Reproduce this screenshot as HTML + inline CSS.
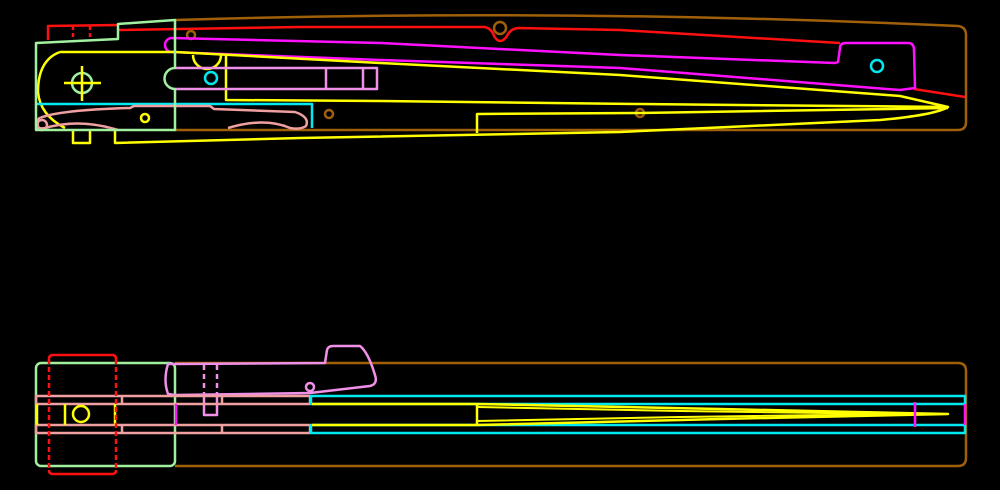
<!DOCTYPE html>
<html><head><style>
html,body{margin:0;padding:0;background:#000;width:1000px;height:490px;overflow:hidden}
svg{display:block}
</style></head><body>
<svg width="1000" height="490" viewBox="0 0 1000 490" xmlns="http://www.w3.org/2000/svg" fill="none" stroke-width="2.5" stroke-linejoin="round">
<!-- TOP VIEW -->
<path d="M175,20 Q560,8 958,26 Q966,27 966,35 L966,122 Q966,130 958,130 L175,130" stroke="#a0600a"/>
<circle cx="500" cy="28" r="6" stroke="#a0600a"/>
<circle cx="191" cy="35" r="4" stroke="#a0600a"/>
<circle cx="329" cy="114" r="4" stroke="#a0600a"/>
<circle cx="640" cy="113" r="4" stroke="#a0600a"/>
<path d="M48,40 L48,26 L118,25 M118,30 L300,27 L485,27 Q492,29 494,36 Q500,46 507,36 Q510,29 518,28 L620,30 L840,43" stroke="#ff1010"/>
<path d="M73,26 L73,38 M90,26 L90,38" stroke="#ff1010" stroke-dasharray="4,3"/>
<path d="M914,89 L965,97" stroke="#ff1010"/>
<path d="M172,38 L380,43 L620,55 L835,63 L838,62 L840,48 Q840,43 846,43 L908,43 Q914,43 914,50 L915,88 L900,90 L620,68 L380,60 L172,52 A7,7 0 0 1 172,38 Z" stroke="#ff10ff"/>
<circle cx="877" cy="66" r="6" stroke="#00e8f0"/>
<path d="M60,52 L175,52 L380,63 L620,75 L900,96 L948,107 Q935,115 880,120 L707,128 L620,132 L300,138 L115,143 L115,130 M60,52 Q38,60 38,92 Q40,115 65,128" stroke="#ffff00"/>
<path d="M226,55 L226,100 L380,101 L640,104 L948,107" stroke="#ffff00"/>
<path d="M477,133 L477,114 L640,113 L948,108" stroke="#ffff00"/>
<path d="M73,130 L73,143 L90,143 L90,130" stroke="#ffff00"/>
<path d="M193,55 A14,14 0 0 0 221,55" stroke="#ffff00"/>
<circle cx="145" cy="118" r="4" stroke="#ffff00"/>
<path d="M36,104 L312,104 L312,128" stroke="#00e8f0"/>
<circle cx="211" cy="78" r="6" stroke="#00e8f0"/>
<path d="M175,68 L377,68 L377,89 L175,89" stroke="#f090e8"/>
<path d="M326,68 L326,89 M363,68 L363,89" stroke="#f090e8"/>
<path d="M40,118 Q60,110 130,108 L134,106 L210,106 L214,109 L295,112 Q310,117 306,126 Q300,130 290,128 Q265,117 228,128 M118,130 Q80,118 45,128 Q36,130 38,122 Q38,118 40,118" stroke="#f0a0a0"/>
<circle cx="42" cy="125" r="5" stroke="#f0a0a0"/>
<path d="M36,43 L118,39 L118,24 L175,20 L175,68 A9,9 0 0 0 175,89 L175,130 L36,130 Z" stroke="#a0f0a0"/>
<circle cx="82" cy="83" r="10" stroke="#a0f0a0"/>
<path d="M64,83 L101,83 M82,66 L82,101" stroke="#ffff00"/>

<!-- BOTTOM VIEW -->
<path d="M175,363 L958,363 Q966,363 966,371 L966,458 Q966,466 958,466 L175,466" stroke="#a0600a"/>
<rect x="36" y="363" width="139" height="103" rx="5" stroke="#a0f0a0"/>
<path d="M175,364 L325,363 L327,350 Q328,346 333,346 L360,346 Q368,352 375,375 Q378,384 370,386 L310,393 L175,395 L168,394 Q163,380 168,364 Z" stroke="#f090e8"/>
<circle cx="310" cy="387" r="4" stroke="#f090e8"/>
<path d="M204,365 L204,395 M217,365 L217,395" stroke="#f090e8" stroke-dasharray="5,4"/>
<path d="M204,397 L204,415 L217,415 L217,397" stroke="#f090e8"/>
<rect x="36" y="396" width="274" height="8" stroke="#f0a0a0"/>
<rect x="36" y="425" width="274" height="8" stroke="#f0a0a0"/>
<path d="M122,396 L122,404 M222,396 L222,404 M122,425 L122,433 M222,425 L222,433" stroke="#f0a0a0"/>
<rect x="311" y="396" width="654" height="8" stroke="#00e8f0"/>
<rect x="311" y="425" width="654" height="8" stroke="#00e8f0"/>
<path d="M37,404 L37,425 M65,404 L65,425 M115,404 L115,425" stroke="#ffff00"/>
<circle cx="81" cy="414" r="8" stroke="#ffff00"/>
<path d="M312,404 L477,404 L720,409 L948,414 L720,419 L477,425 L312,425 M477,404 L477,425" stroke="#ffff00"/>
<path d="M477,407 L680,411 L900,414 M477,421 L680,417 L900,414" stroke="#ffff00" stroke-width="2"/>
<path d="M176,404 L176,425 M915,402 L915,427 M965,404 L965,425" stroke="#ff10ff"/>
<path d="M49,359 Q49,355 53,355 L112,355 Q116,355 116,359 M49,470 Q49,474 53,474 L112,474 Q116,474 116,470" stroke="#ff1010"/>
<path d="M49,359 L49,470 M116,359 L116,470" stroke="#ff1010" stroke-dasharray="5,3"/>
</svg>
</body></html>
